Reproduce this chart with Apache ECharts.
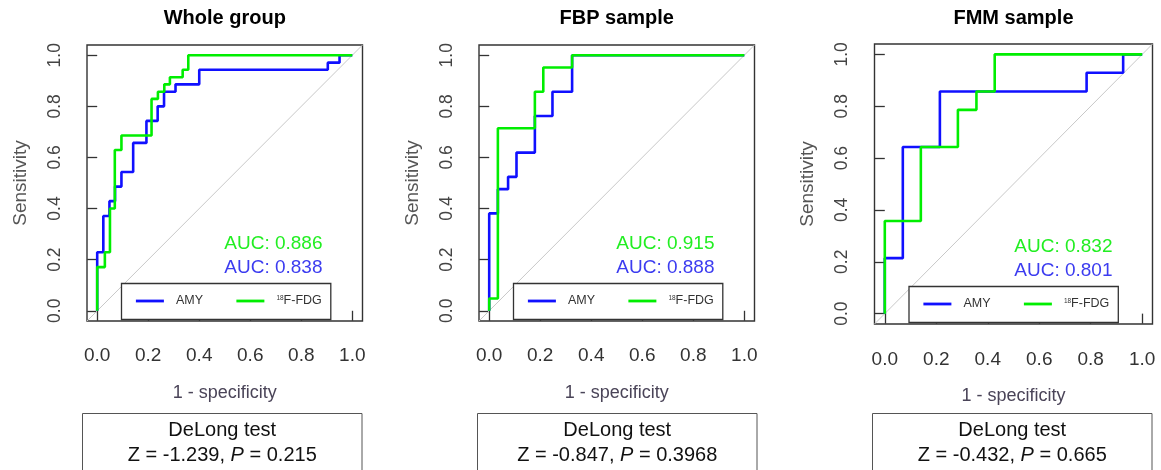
<!DOCTYPE html>
<html><head><meta charset="utf-8">
<script src="https://cdn.jsdelivr.net/npm/echarts@6/dist/echarts.min.js"></script>
<style>html,body{margin:0;padding:0;background:#fff}#c{width:1161px;height:470px}</style>
</head><body><div id="c"></div>
<script>
// ---------------- data ----------------
const panelTitles = ['Whole group', 'FBP sample', 'FMM sample'];
const seriesNames = ['AMY', '18F-FDG'];
const tickValues = [0, 0.2, 0.4, 0.6, 0.8, 1.0];
const xAxisName = '1 - specificity';
const yAxisName = 'Sensitivity';
const chanceLineEnds = [-0.04, 1.04];

// Whole group (ROC step vertices: 1 - specificity, sensitivity)
const wholeAmyFpr = [0, 0, 0.024, 0.048, 0.070, 0.095, 0.141, 0.193, 0.237, 0.262, 0.307, 0.400, 0.904, 0.950, 1];
const wholeAmyTpr = [0, 0.229, 0.371, 0.429, 0.486, 0.543, 0.657, 0.743, 0.800, 0.857, 0.886, 0.943, 0.971, 1, 1];
const wholeFdgFpr = [0, 0, 0.030, 0.050, 0.069, 0.095, 0.213, 0.238, 0.263, 0.285, 0.335, 0.357, 1];
const wholeFdgTpr = [0, 0.171, 0.229, 0.400, 0.629, 0.686, 0.829, 0.857, 0.886, 0.914, 0.943, 1, 1];
// FBP sample
const fbpAmyFpr = [0, 0, 0.034, 0.074, 0.107, 0.179, 0.248, 0.325, 1];
const fbpAmyTpr = [0, 0.381, 0.476, 0.524, 0.619, 0.762, 0.857, 1, 1];
const fbpFdgFpr = [0, 0, 0.034, 0.179, 0.212, 0.325, 1];
const fbpFdgTpr = [0, 0.048, 0.714, 0.857, 0.952, 1, 1];
// FMM sample
const fmmAmyFpr = [0, 0, 0.070, 0.214, 0.784, 0.926, 1];
const fmmAmyTpr = [0, 0.214, 0.643, 0.857, 0.929, 1, 1];
const fmmFdgFpr = [0, 0, 0.140, 0.284, 0.356, 0.427, 1];
const fmmFdgTpr = [0, 0.357, 0.643, 0.786, 0.857, 1, 1];

const aucAmy = ['0.838', '0.888', '0.801'];
const aucFdg = ['0.886', '0.915', '0.832'];
const delongZ = ['-1.239', '-0.847', '-0.432'];
const delongP = ['0.215', '0.3968', '0.665'];

// ---------------- layout / style ----------------
const FONT = 'Liberation Sans, Arial, Helvetica, sans-serif';
const BLUE = '#1010ff', GREEN = '#00ee00';
const boxes = [
  {left: 87, top: 45, width: 275.5, height: 276, xMargin: 25},
  {left: 479, top: 45, width: 275.5, height: 276, xMargin: 25},
  {left: 874.5, top: 44, width: 278, height: 280, xMargin: 26}
];
const delongBoxX = [82.5, 477.5, 872.5];
const curves = [
  [[wholeAmyFpr, wholeAmyTpr], [wholeFdgFpr, wholeFdgTpr]],
  [[fbpAmyFpr, fbpAmyTpr], [fbpFdgFpr, fbpFdgTpr]],
  [[fmmAmyFpr, fmmAmyTpr], [fmmFdgFpr, fmmFdgTpr]]
];
const zip = (xs, ys) => xs.map((x, k) => [x, ys[k]]);

const grid = [], xAxis = [], yAxis = [], series = [], title = [], legend = [], graphic = [];
boxes.forEach((b, i) => {
  grid.push({left: b.left, top: b.top, width: b.width, height: b.height, show: true,
    borderColor: '#333', borderWidth: 1.4, backgroundColor: 'transparent', containLabel: false, outerBoundsMode: 'none'});
  xAxis.push({gridIndex: i, type: 'value', min: chanceLineEnds[0], max: chanceLineEnds[1],
    axisLine: {show: false}, splitLine: {show: false},
    axisTick: {show: true, customValues: tickValues, length: 10, lineStyle: {color: '#333', width: 1.3}},
    axisLabel: {customValues: tickValues, formatter: v => v.toFixed(1), margin: b.xMargin, fontSize: 19, color: '#333', fontFamily: FONT},
    name: xAxisName, nameLocation: 'middle', nameGap: 63,
    nameTextStyle: {fontSize: 18, color: '#4a4458', fontFamily: FONT}});
  yAxis.push({gridIndex: i, type: 'value', min: chanceLineEnds[0], max: chanceLineEnds[1],
    axisLine: {show: false}, splitLine: {show: false},
    axisTick: {show: true, customValues: tickValues, length: 10, lineStyle: {color: '#333', width: 1.3}},
    axisLabel: {customValues: tickValues, formatter: v => v.toFixed(1), rotate: 90, margin: 23, fontSize: 17.5, color: '#444', fontFamily: FONT},
    name: yAxisName, nameLocation: 'middle', nameRotate: 90, nameGap: 57,
    nameTextStyle: {fontSize: 19, color: '#555', fontFamily: FONT}});
  series.push({type: 'line', xAxisIndex: i, yAxisIndex: i, silent: true, symbol: 'none', z: 1,
    data: [[chanceLineEnds[0], chanceLineEnds[0]], [chanceLineEnds[1], chanceLineEnds[1]]],
    lineStyle: {color: '#c8c8c8', width: 1}});
  curves[i].forEach((c, s) => {
    series.push({type: 'line', name: seriesNames[s], xAxisIndex: i, yAxisIndex: i, step: 'end',
      symbol: 'none', data: zip(c[0], c[1]), z: 2 + s,
      itemStyle: {color: s === 0 ? BLUE : GREEN},
      lineStyle: {color: s === 0 ? BLUE : GREEN, width: 2.6}});
  });
  const cx = b.left + b.width / 2;
  title.push({text: panelTitles[i], left: cx, top: 8, padding: 0, textAlign: 'center',
    textStyle: {fontSize: 20, fontWeight: 'bold', color: '#000', fontFamily: FONT}});
  legend.push({data: seriesNames, left: b.left + 34.5, top: b.top + b.height - 37.5, orient: 'horizontal',
    padding: [11, 9, 12, 13], itemGap: 32, itemWidth: 28, itemHeight: 14,
    borderColor: '#333', borderWidth: 1.3, borderRadius: 0, backgroundColor: '#fff', selectedMode: false,
    itemStyle: {color: 'rgba(0,0,0,0)', borderColor: 'rgba(0,0,0,0)', borderWidth: 0, opacity: 0},
    lineStyle: {width: 2.8},
    formatter: n => n === '18F-FDG' ? '{s|18}{t|F-FDG}' : '{t|' + n + '}',
    textStyle: {padding: [0, 0, 0, 7], color: '#333', fontFamily: FONT,
      rich: {t: {fontSize: 12.5, color: '#333', fontFamily: FONT},
             s: {fontSize: 6.5, color: '#333', fontFamily: FONT, padding: [0, 0, 6, 0]}}}});
  const rx = b.left + b.width - 40, by = b.top + b.height;
  graphic.push({type: 'text', x: rx, y: by - 77, z: 10,
    style: {text: 'AUC: ' + aucFdg[i], fill: '#22ee22', font: '19px ' + FONT, align: 'right', verticalAlign: 'middle'}});
  graphic.push({type: 'text', x: rx, y: by - 53, z: 10,
    style: {text: 'AUC: ' + aucAmy[i], fill: '#3c3cf0', font: '19px ' + FONT, align: 'right', verticalAlign: 'middle'}});
  const dx = delongBoxX[i];
  graphic.push({type: 'rect', shape: {x: dx, y: 413.5, width: 279.5, height: 70},
    style: {fill: '#fff', stroke: '#555', lineWidth: 1}});
  graphic.push({type: 'text', x: dx + 279.5 / 2, y: 430,
    style: {text: 'DeLong test', fill: '#111', font: '20px ' + FONT, align: 'center', verticalAlign: 'middle'}});
  graphic.push({type: 'text', x: dx + 279.5 / 2, y: 455,
    style: {text: '{n|Z = ' + delongZ[i] + ', }{i|P}{n| = ' + delongP[i] + '}', align: 'center', verticalAlign: 'middle',
      rich: {n: {fontSize: 20, fontFamily: FONT, fill: '#111'}, i: {fontSize: 20, fontFamily: FONT, fontStyle: 'italic', fill: '#111'}}}});
});

const chart = echarts.init(document.getElementById('c'), null, {renderer: 'canvas'});
chart.setOption({
  animation: false,
  backgroundColor: '#fff',
  textStyle: {fontFamily: FONT},
  title, legend, grid, xAxis, yAxis, series, graphic
});
</script></body></html>
